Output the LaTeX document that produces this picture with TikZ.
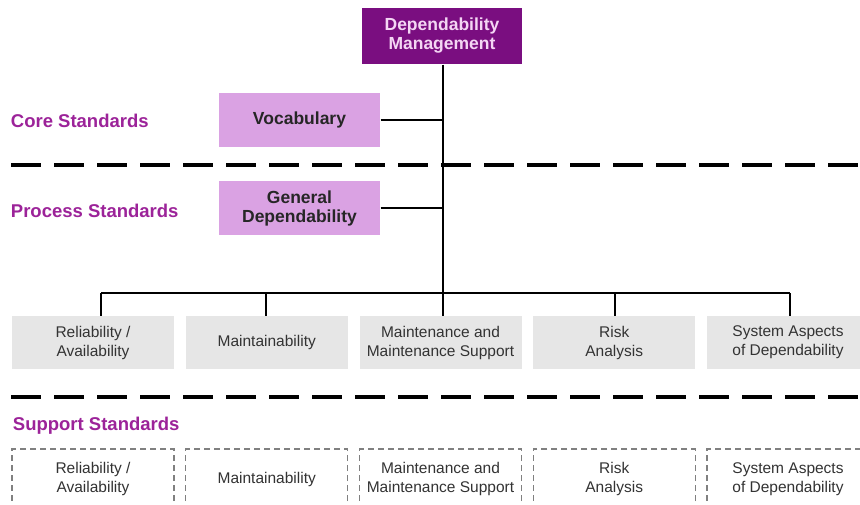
\documentclass[tikz,border=0pt]{standalone}
\usepackage{fontspec}
\setmainfont{Liberation Sans}
\usetikzlibrary{positioning}

\definecolor{darkplum}{HTML}{7A0E80}
\definecolor{palepink}{HTML}{F4D6F4}
\definecolor{lightplum}{HTML}{DAA2E3}
\definecolor{tiercol}{HTML}{9C2399}
\definecolor{boxgray}{HTML}{E6E6E6}
\definecolor{txtgray}{HTML}{333333}

\begin{document}
\begin{tikzpicture}[x=1pt, y=-1pt, node distance=11.75pt, line width=1.2pt,
  top/.style = {fill=darkplum, text=palepink, minimum width=160pt, minimum height=56pt,
    inner sep=0, align=center, font=\bfseries\fontsize{17.5}{19}\selectfont},
  core/.style = {fill=lightplum, text=black!85, minimum width=161pt, minimum height=54pt,
    inner sep=0, align=center, font=\bfseries\fontsize{17.5}{19}\selectfont},
  proc/.style = {fill=boxgray, text=txtgray, minimum width=162pt, minimum height=53pt,
    inner sep=0, outer sep=0, align=center, font=\fontsize{15.5}{19}\selectfont},
  supp/.style = {proc, fill=none, draw=gray, line width=1.1pt, dash pattern=on 6pt off 4pt,
    minimum height=60pt},
  tier/.style = {text=tiercol, anchor=west, font=\bfseries\fontsize{18.5}{20}\selectfont},
  band/.style = {line width=4pt, dash pattern=on 30pt off 13pt}]

\useasboundingbox[fill=white] (0,0) rectangle (860,504);

% tier labels and dividers
\node[tier] (core) at (7,121) {Core Standards};
\node[tier] (process) at (7,211) {Process Standards};
\node[tier] (support) at (9,426) {Support Standards};
\draw[band] (11,165) -- (860,165);
\draw[band] (11,397) -- (860,397);

% top and core
\node[top] (mgmt) at (442,36) {Dependability\\Management};
\node[core] (vocab) at (299.5,120) {Vocabulary};
\node[core] (gen) at (299.5,208) {General\\Dependability};

% process row
\node[proc] (p1) at (93,342.5) {Reliability /\\Availability};
\node[proc] (p2) [right=of p1] {Maintainability};
\node[proc] (p3) [right=of p2] {Maintenance and\\Maintenance Support};
\node[proc] (p4) [right=of p3] {Risk\\Analysis};
\node[proc] (p5) [right=of p4] {System Aspects\\of Dependability};

% support row
\node[supp] (s1) [below=80pt of p1] {Reliability /\\Availability};
\node[supp] (s2) [below=80pt of p2] {Maintainability};
\node[supp] (s3) [below=80pt of p3] {Maintenance and\\Maintenance Support};
\node[supp] (s4) [below=80pt of p4] {Risk\\Analysis};
\node[supp] (s5) [below=80pt of p5] {System Aspects\\of Dependability};

% tree
\coordinate (bar) at (443,293);
\coordinate (d1) at (101,293);
\coordinate (d2) at (266,293);
\coordinate (d3) at (443,293);
\coordinate (d4) at (615,293);
\coordinate (d5) at (790,293);

\draw (mgmt.south -| bar) -- (bar);
\draw (vocab.east) -- (vocab.east -| bar);
\draw (gen.east) -- (gen.east -| bar);
\draw (d1) -- (d5);
\foreach \i in {1,...,5}
  \draw (d\i) -- (d\i |- p\i.north);

\end{tikzpicture}
\end{document}
